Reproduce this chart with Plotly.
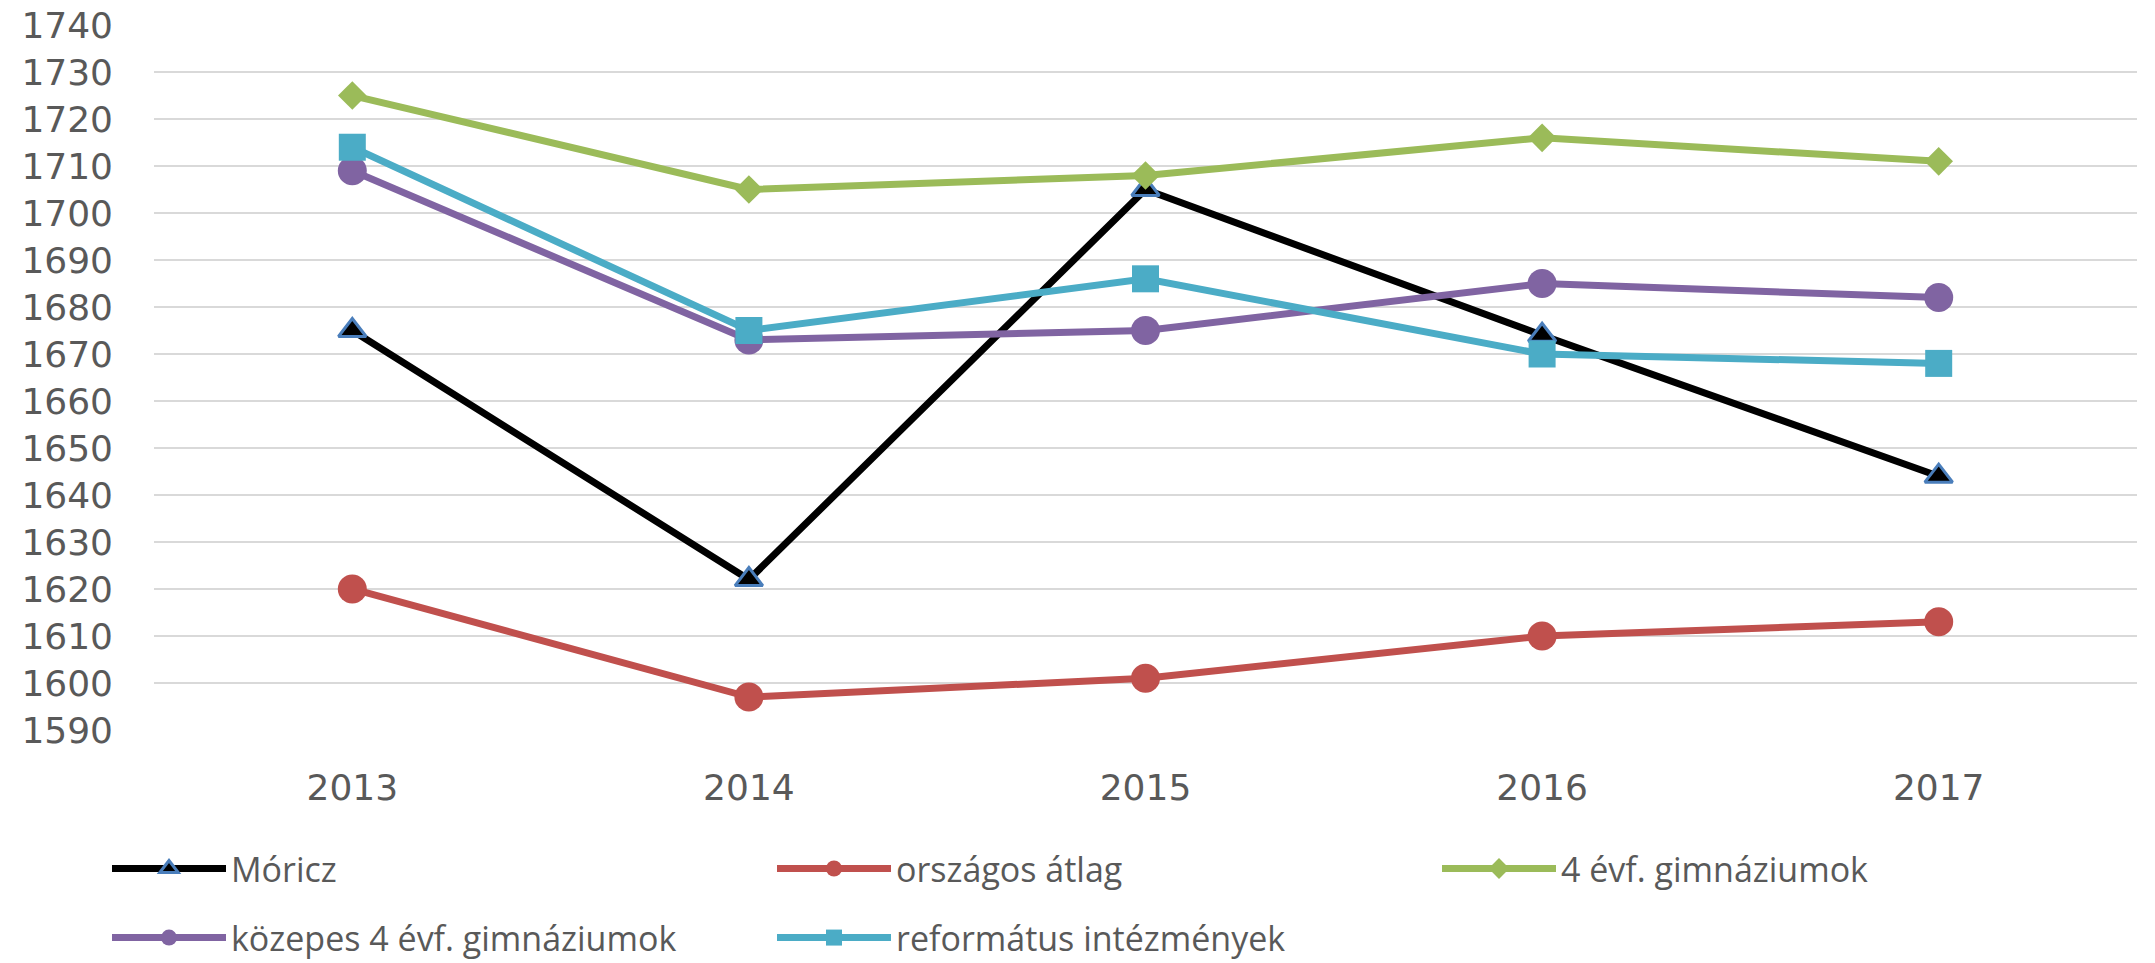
import plotly.graph_objects as go

years = ["2013", "2014", "2015", "2016", "2017"]
moricz = [1675, 1622, 1705, 1674, 1644]
orszagos = [1620, 1597, 1601, 1610, 1613]
gimn4 = [1725, 1705, 1708, 1716, 1711]
kozepes4 = [1709, 1673, 1675, 1685, 1682]
reformatus = [1714, 1675, 1686, 1670, 1668]
y_ticks = list(range(1590, 1741, 10))

fig = go.Figure()

series = [
    ("Móricz", moricz, "#000000", dict(symbol="triangle-up", size=24, color="#000000",
                                          line=dict(color="#4A7EBB", width=3)), "legend"),
    ("országos átlag", orszagos, "#C0504D", dict(symbol="circle", size=29, color="#C0504D"), "legend"),
    ("4 évf. gimnáziumok", gimn4, "#9BBB59", dict(symbol="diamond", size=22, color="#9BBB59"), "legend"),
    ("közepes 4 évf. gimnáziumok", kozepes4, "#8064A2", dict(symbol="circle", size=29, color="#8064A2"), "legend2"),
    ("református intézmények", reformatus, "#4BACC6", dict(symbol="square", size=27, color="#4BACC6"), "legend2"),
]
for name, vals, col, mk, lg in series:
    fig.add_trace(go.Scatter(
        x=years, y=vals, name=name, mode="lines+markers",
        line=dict(color=col, width=7), marker=mk, legend=lg,
    ))

legend_font = "Open Sans"
tick_font = "DejaVu Sans"
legend_common = dict(
    orientation="h", xanchor="left", yanchor="middle",
    font=dict(family=legend_font, size=34, color="#595959"),
    itemwidth=114, entrywidth=536, entrywidthmode="pixels",
    bgcolor="rgba(0,0,0,0)", borderwidth=0, tracegroupgap=0,
    itemclick=False, itemdoubleclick=False,
)

fig.update_layout(
    width=2155, height=963,
    margin=dict(l=154, r=18, t=25, b=233, autoexpand=False),
    paper_bgcolor="white", plot_bgcolor="white",
    showlegend=True,
    legend=dict(x=-0.0237, y=-0.197, **legend_common),
    legend2=dict(x=-0.0237, y=-0.295, **legend_common),
    xaxis=dict(
        type="category", range=[-0.5, 4.5], showgrid=False, zeroline=False,
        showline=False, ticks="", ticklabelstandoff=33,
        tickfont=dict(family=tick_font, size=36, color="#595959"),
    ),
    yaxis=dict(
        range=[1589.99, 1740.01], tickvals=y_ticks, showgrid=True, gridcolor="#D9D9D9",
        gridwidth=2, zeroline=False, showline=False, ticks="", ticklabelstandoff=40,
        tickfont=dict(family=tick_font, size=36, color="#595959"),
    ),
)

fig.write_html("out.html", config={"displayModeBar": False},
               post_script="document.body.style.margin='0px';")
